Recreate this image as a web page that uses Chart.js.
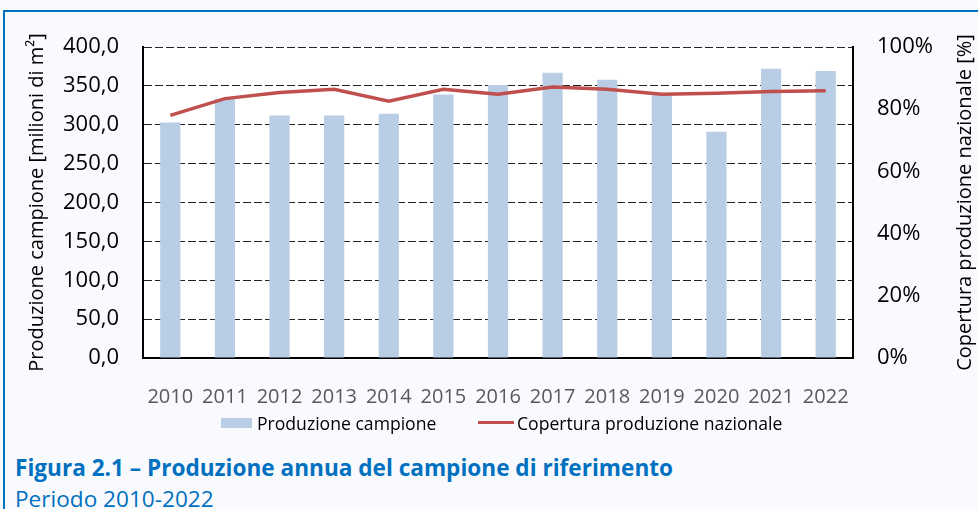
<!DOCTYPE html>
<html>
<head>
<meta charset="utf-8">
<script src="https://cdn.jsdelivr.net/npm/chart.js@4.4.0/dist/chart.umd.min.js"></script>
<style>
  body { margin: 0; background: #f8fafd; font-family: "Open Sans", sans-serif; }
  #page { position: relative; width: 978px; height: 509px; overflow: hidden; }
  #frame { position: absolute; left: 3px; top: 10px; right: 0; bottom: 0; border-top: 2px solid #0070c0; border-left: 2px solid #0070c0; }
  #wrap { position: absolute; left: 0; top: 0; width: 978px; height: 420px; }
  .leg { position: absolute; font-size: 17.6px; color: #000; line-height: 20px; white-space: nowrap; }
  .title { position: absolute; left: 15px; color: #0070c0; font-size: 22.6px; white-space: nowrap; line-height: 28px; }
</style>
</head>
<body>
<div id="page">
  <div id="frame"></div>
  <div id="wrap"><canvas id="mycanvas" width="978" height="420"></canvas></div>

  <div style="position:absolute;left:221px;top:418px;width:31px;height:10px;background:#b9cde5"></div>
  <div class="leg" style="left:257px;top:413px">Produzione campione</div>
  <div style="position:absolute;left:478px;top:421px;width:36px;height:3px;background:#c0504d"></div>
  <div class="leg" style="left:517px;top:413px">Copertura produzione nazionale</div>

  <div class="title" style="top:454px;font-weight:bold">Figura 2.1 – Produzione annua del campione di riferimento</div>
  <div class="title" style="top:485px">Periodo 2010-2022</div>
</div>
<script>
var anni = ['2010','2011','2012','2013','2014','2015','2016','2017','2018','2019','2020','2021','2022'];
var produzione = [303, 333, 312, 312, 314, 339, 351, 367, 358, 339, 291, 372, 369];
var copertura = [78.0, 83.4, 85.4, 86.4, 82.6, 86.4, 84.8, 87.1, 86.4, 84.8, 85.1, 85.7, 85.9];

var font = "'Open Sans', sans-serif";
var titoloDx = 'Copertura produzione nazionale [%]';

/* white plot area + right axis title read bottom-to-top */
var extras = {
	id: 'extras',
	beforeDraw: function(chart) {
		var a = chart.chartArea, ctx = chart.ctx;
		ctx.save();
		ctx.fillStyle = '#ffffff';
		ctx.fillRect(a.left, a.top, a.right - a.left, a.bottom - a.top);
		ctx.restore();
	},
	afterDraw: function(chart) {
		var a = chart.chartArea, ctx = chart.ctx;
		ctx.save();
		ctx.translate(965, (a.top + a.bottom) / 2);
		ctx.rotate(-Math.PI / 2);
		ctx.font = '20px ' + font;
		ctx.fillStyle = '#000';
		ctx.textAlign = 'center';
		ctx.textBaseline = 'middle';
		ctx.fillText(titoloDx, 0, 0);
		ctx.restore();
	}
};

var ctx = document.getElementById('mycanvas');

var chart = new Chart(ctx, {
	data: {
		labels: anni,
		datasets: [
			{
				type: 'line',
				label: 'Copertura produzione nazionale',
				data: copertura.map(function(v) { return v / 100; }),
				yAxisID: 'y1',
				borderColor: '#c0504d',
				borderWidth: 3.5,
				pointRadius: 0,
				tension: 0,
				order: 0
			},
			{
				type: 'bar',
				label: 'Produzione campione',
				data: produzione,
				yAxisID: 'y',
				backgroundColor: '#b9cde5',
				barPercentage: 0.37,
				categoryPercentage: 1,
				order: 1
			}
		]
	},
	options: {
		responsive: false,
		animation: false,
		layout: { padding: { top: 47, left: 0, right: 0, bottom: 0 } },
		plugins: {
			legend: { display: false },
			tooltip: { enabled: false }
		},
		scales: {
			x: {
				grid: { display: false },
				border: { color: '#000', width: 2 },
				ticks: { color: '#595959', padding: 19, font: { family: font, size: 20 } },
				afterFit: function(s) { s.height = 62; }
			},
			y: {
				position: 'left',
				min: 0,
				max: 400,
				ticks: {
					stepSize: 50,
					color: '#000',
					padding: 24,
					font: { family: font, size: 22 },
					callback: function(v) { return v.toFixed(1).replace('.', ','); }
				},
				grid: { color: '#222', lineWidth: 1, drawTicks: false },
				border: { color: '#000', width: 2, dash: [8, 3] },
				title: {
					display: true,
					text: 'Produzione campione [milioni di m²]',
					color: '#000',
					font: { family: font, size: 20 },
					padding: { top: 25, bottom: 0 }
				},
				afterFit: function(s) { s.width = 143; }
			},
			y1: {
				position: 'right',
				min: 0,
				max: 1,
				ticks: {
					stepSize: 0.2,
					color: '#000',
					padding: 24,
					font: { family: font, size: 22 },
					callback: function(v) { return Math.round(v * 100) + '%'; }
				},
				grid: { drawOnChartArea: false, drawTicks: false },
				border: { color: '#000', width: 2 },
				afterFit: function(s) { s.width = 125; }
			}
		}
	},
	plugins: [extras]
});
</script>
</body>
</html>
